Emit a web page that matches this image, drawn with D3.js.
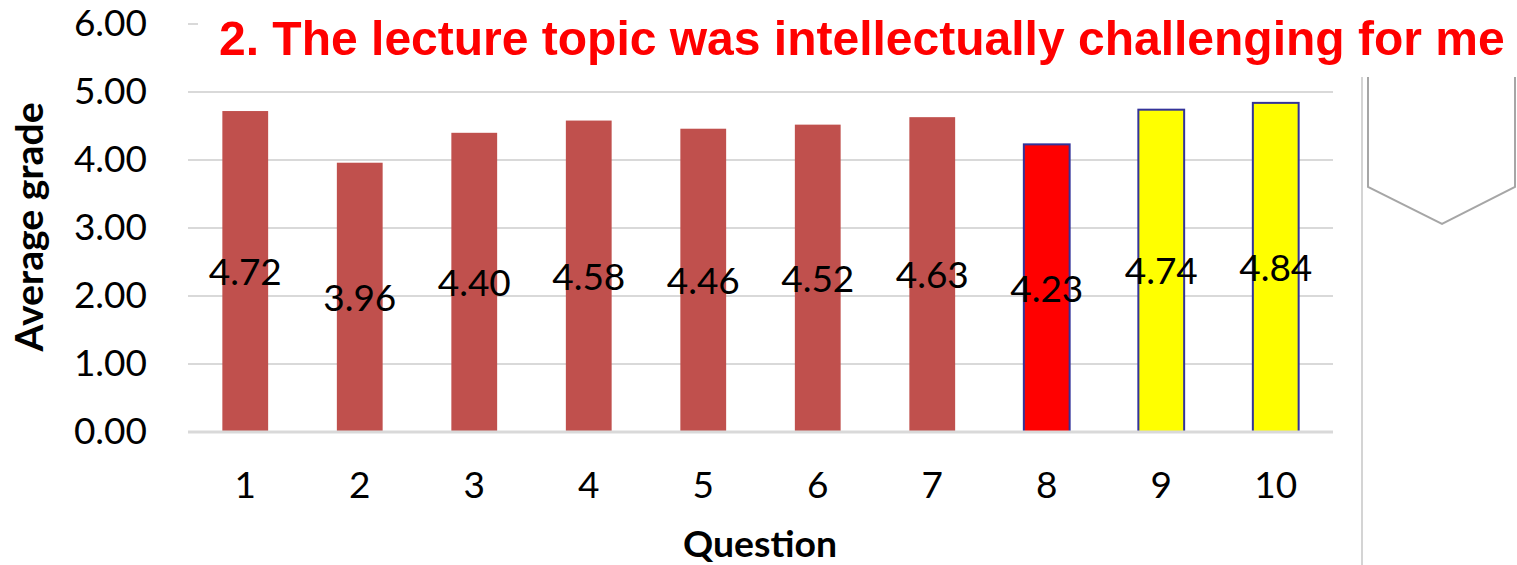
<!DOCTYPE html>
<html>
<head>
<meta charset="utf-8">
<script src="https://cdn.jsdelivr.net/npm/d3@7"></script>
<style>
  body { margin: 0; background: #fff; }
  svg { display: block; }
</style>
</head>
<body>
<script>
// chart data
var questions = ["1", "2", "3", "4", "5", "6", "7", "8", "9", "10"];
var grades = [4.72, 3.96, 4.40, 4.58, 4.46, 4.52, 4.63, 4.23, 4.74, 4.84];
var yTicks = [0, 1, 2, 3, 4, 5, 6];
var titleText = "2. The lecture topic was intellectually challenging for me";

// bar styles, one per question
var barFill = ["#c0504d", "#c0504d", "#c0504d", "#c0504d", "#c0504d", "#c0504d", "#c0504d", "#ff0000", "#ffff00", "#ffff00"];
var barStroke = [null, null, null, null, null, null, null, "#33339a", "#33339a", "#33339a"];

var totalWidth = 1517;
var totalHeight = 565;
var margin = {top: 24, right: 184, bottom: 133, left: 188},
    width = totalWidth - margin.left - margin.right,
    height = totalHeight - margin.top - margin.bottom;

var gridColor = "#d9d9d9";
var labelFont = "Lato, 'Open Sans', sans-serif";

var svg = d3.select("body").append("svg")
    .attr("width", totalWidth)
    .attr("height", totalHeight);

var g = svg.append("g")
    .attr("transform", "translate(" + margin.left + "," + margin.top + ")");

var xScale = d3.scaleBand()
    .domain(questions)
    .range([0, width])
    .paddingInner(0.6)
    .paddingOuter(0.3);

var yScale = d3.scaleLinear()
    .domain([0, 6])
    .range([height, 0]);

// gridlines
g.append("g")
    .selectAll("line")
    .data(yTicks.filter(d => d > 0))
    .enter()
    .append("line")
    .attr("x1", 0)
    .attr("x2", width)
    .attr("y1", d => yScale(d))
    .attr("y2", d => yScale(d))
    .attr("stroke", gridColor)
    .attr("stroke-width", 2);

// bars
var plotData = questions.map((q, i) => ({q: q, v: grades[i], fill: barFill[i], stroke: barStroke[i]}));

g.selectAll(".bar")
    .data(plotData)
    .enter()
    .append("rect")
    .attr("class", "bar")
    .attr("x", d => xScale(d.q))
    .attr("y", d => yScale(d.v))
    .attr("width", xScale.bandwidth())
    .attr("height", d => height - yScale(d.v))
    .attr("fill", d => d.fill)
    .attr("stroke", d => d.stroke || "none")
    .attr("stroke-width", 2);

// baseline
g.append("line")
    .attr("x1", 0)
    .attr("x2", width)
    .attr("y1", yScale(0))
    .attr("y2", yScale(0))
    .attr("stroke", gridColor)
    .attr("stroke-width", 3);

// value labels, centred in the bar
g.selectAll(".value")
    .data(plotData)
    .enter()
    .append("text")
    .attr("class", "value")
    .attr("x", d => xScale(d.q) + xScale.bandwidth() / 2)
    .attr("y", d => (yScale(d.v) + yScale(0)) / 2)
    .attr("dy", "0.36em")
    .attr("text-anchor", "middle")
    .attr("font-family", labelFont)
    .attr("font-size", 37)
    .attr("fill", "#000")
    .text(d => d.v.toFixed(2));

// y axis labels
var yAxis = d3.axisLeft(yScale)
    .tickValues(yTicks)
    .tickFormat(d3.format(".2f"))
    .tickSize(0)
    .tickPadding(41);
var yAxisBox = g.append("g").call(yAxis);
yAxisBox.select(".domain").remove();
yAxisBox.selectAll("text")
    .attr("font-family", labelFont)
    .attr("font-size", 37)
    .attr("fill", "#000");

// x axis labels
var xAxis = d3.axisBottom(xScale)
    .tickSize(0)
    .tickPadding(40);
var xAxisBox = g.append("g")
    .attr("transform", "translate(0," + height + ")")
    .call(xAxis);
xAxisBox.select(".domain").remove();
xAxisBox.selectAll("text")
    .attr("font-family", labelFont)
    .attr("font-size", 37)
    .attr("fill", "#000");

// axis titles
svg.append("text")
    .attr("transform", "translate(43,227) rotate(-90)")
    .attr("text-anchor", "middle")
    .attr("font-family", labelFont)
    .attr("font-weight", "bold")
    .attr("font-size", 38)
    .attr("textLength", 249)
    .attr("lengthAdjust", "spacingAndGlyphs")
    .text("Average grade");

svg.append("text")
    .attr("x", 683)
    .attr("y", 557)
    .attr("font-family", labelFont)
    .attr("font-weight", "bold")
    .attr("font-size", 37)
    .attr("textLength", 154)
    .attr("lengthAdjust", "spacingAndGlyphs")
    .text("Question");

// side panel decoration
svg.append("line")
    .attr("x1", 1362).attr("x2", 1362)
    .attr("y1", 70).attr("y2", totalHeight)
    .attr("stroke", "#d4d4d4")
    .attr("stroke-width", 2);

svg.append("path")
    .attr("d", d3.line()([[1368, 70], [1368, 187], [1442, 224], [1515, 187], [1515, 70]]))
    .attr("fill", "none")
    .attr("stroke", "#a6a6a6")
    .attr("stroke-width", 2);

// title box sits over the top gridline
svg.append("rect")
    .attr("x", 198)
    .attr("y", 0)
    .attr("width", totalWidth - 198)
    .attr("height", 77)
    .attr("fill", "#fff");

var title = svg.append("text")
    .attr("x", 219)
    .attr("y", 55)
    .attr("font-family", "'Liberation Sans', Arial, sans-serif")
    .attr("font-weight", "bold")
    .attr("font-size", 40)
    .attr("fill", "#ff0000")
    .text(titleText);

// fit the title to its width in the picture
var tw = title.node().getComputedTextLength();
title.attr("font-size", 40 * 1286 / tw);
</script>
</body>
</html>
